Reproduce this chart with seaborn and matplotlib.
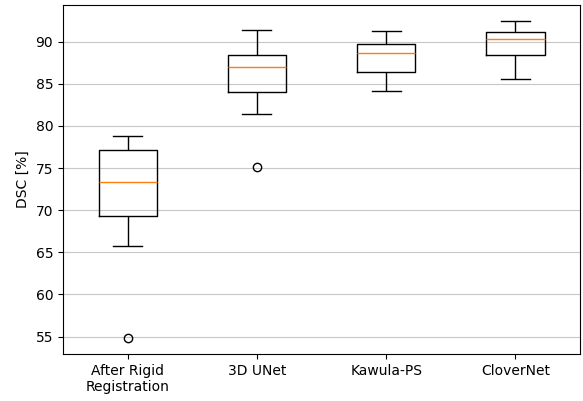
"""Boxplot of DSC scores per method."""

import pandas as pd
import matplotlib
matplotlib.use("Agg")
import matplotlib.pyplot as plt
import seaborn as sns

methods = ["After Rigid\nRegistration", "3D UNet", "Kawula-PS", "CloverNet"]

# nine cases per method (q1 = 3rd, median = 5th, q3 = 7th value)
dsc_rigid = [54.8, 65.75, 69.3, 71.5, 73.37, 75.5, 77.16, 78.0, 78.86]
dsc_unet = [75.1, 81.4, 84.0, 85.5, 86.95, 87.8, 88.46, 90.0, 91.4]
dsc_kawula = [84.15, 85.3, 86.45, 87.6, 88.7, 89.2, 89.76, 90.5, 91.26]
dsc_clover = [85.6, 87.0, 88.4, 89.3, 90.27, 90.7, 91.1, 91.8, 92.49]

values = [dsc_rigid, dsc_unet, dsc_kawula, dsc_clover]
df = pd.DataFrame(
    {
        "method": [m for m, v in zip(methods, values) for _ in v],
        "dsc": [x for v in values for x in v],
    }
)

fig, ax = plt.subplots(figsize=(5.83, 4.01), dpi=100)

sns.boxplot(
    data=df,
    x="method",
    y="dsc",
    order=methods,
    fill=False,
    color="black",
    linecolor="black",
    linewidth=1.0,
    width=0.45,
    whis=1.5,
    medianprops=dict(color="#ff7f0e", linewidth=1.0),
    flierprops=dict(marker="o", markerfacecolor="none", markeredgecolor="black", markersize=6),
    ax=ax,
)

ax.set_xlabel("")
ax.set_ylabel("DSC [%]")
ax.set_xlim(-0.5, 3.5)
ax.set_yticks([55, 60, 65, 70, 75, 80, 85, 90])
ax.yaxis.grid(True, color="#b0b0b0", linewidth=0.8, alpha=0.7)
ax.set_axisbelow(True)

fig.subplots_adjust(left=0.108, right=0.995, top=0.988, bottom=0.117)
plt.savefig("out.png", dpi=100)
plt.close()
